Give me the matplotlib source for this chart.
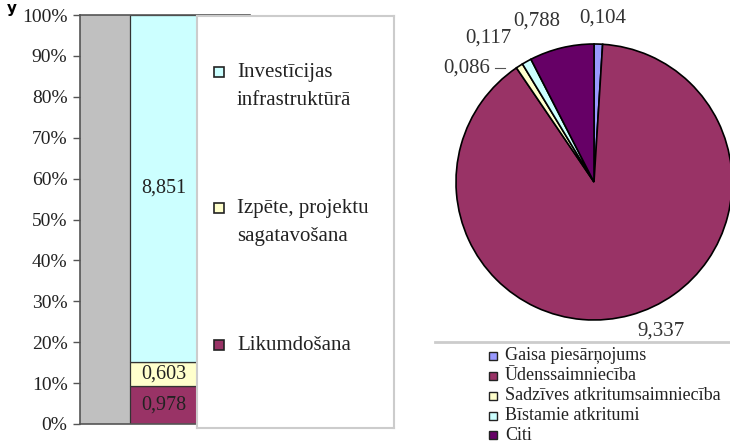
import numpy as np
import matplotlib.pyplot as plt
from matplotlib.patches import Rectangle

# bar chart (left) - values from the picture
bar_labels = ["Likumdošana", "Izpēte, projektu\nsagatavošana", "Investīcijas\ninfrastruktūrā"]
bar_values = [0.978, 0.603, 8.851]
bar_colors = ["#993366", "#FFFFCC", "#CCFFFF"]

# pie chart (right)
pie_labels = ["Gaisa piesārņojums", "Ūdenssaimniecība", "Sadzīves atkritumsaimniecība",
              "Bīstamie atkritumi", "Citi"]
pie_values = [0.104, 9.337, 0.086, 0.117, 0.788]
pie_colors = ["#9999FF", "#993366", "#FFFFCC", "#CCFFFF", "#660066"]

W, H = 730, 443
plt.rcParams['font.family'] = ['Liberation Serif', 'DejaVu Serif']
fig = plt.figure(figsize=(W / 100, H / 100), dpi=100)

def fx(px):
    return px / W

def fy(py):
    return 1 - py / H

def fmt(v):
    return ("%.3f" % v).replace(".", ",")

# ---- left: 100% stacked bar
ax = fig.add_axes([fx(80), fy(424), fx(250 - 80), (424 - 15) / H])
ax.set_facecolor("#C0C0C0")
total = sum(bar_values)
pct = [v / total * 100 for v in bar_values]
bottom = 0
for v, p, c in zip(bar_values, pct, bar_colors):
    ax.bar(0, p, width=1, bottom=bottom, color=c, edgecolor="#333333", linewidth=0.9, zorder=2)
    ax.text(0, bottom + p / 2, fmt(v), ha="center", va="center", fontsize=14.5, color="#222222", zorder=3)
    bottom += p
ax.set_xlim(-0.5 - 50 / 67, 0.5 + 53 / 67)
ax.set_ylim(0, 100)
ax.set_yticks(np.arange(0, 101, 10))
ax.set_yticklabels(["%d%%" % t for t in range(0, 101, 10)], fontsize=14, color="#222222")
ax.set_xticks([])
ax.tick_params(axis="y", length=5, width=1, color="#555555", pad=4)
for s in ["left", "top", "bottom"]:
    ax.spines[s].set_color("#555555")
    ax.spines[s].set_linewidth(1.2)
ax.spines["right"].set_visible(False)

# legend box for bar
lg = fig.add_axes([fx(197), fy(428), fx(394 - 197), (428 - 16) / H])
lg.set_xlim(197, 394)
lg.set_ylim(428, 16)
lg.set_xticks([])
lg.set_yticks([])
lg.set_facecolor("white")
for s in lg.spines.values():
    s.set_color("#CCCCCC")
    s.set_linewidth(1.5)
leg_rows = [345, 208, 72]
for lab, c, y in zip(bar_labels, bar_colors, leg_rows):
    lg.add_patch(Rectangle((214, y - 5), 10, 10, facecolor=c, edgecolor="#222222", linewidth=1.2))
    lg.text(237, y - 9, lab, ha="left", va="top", fontsize=15, color="#222222", linespacing=1.65)

# ---- right: pie
pa = fig.add_axes([fx(456), fy(320), fx(276), 276 / H])
pa.pie(pie_values, colors=pie_colors, startangle=90, counterclock=False,
       wedgeprops=dict(edgecolor="black", linewidth=1.2))
pa.set_xlim(-1, 1)
pa.set_ylim(-1, 1)
pa.set_aspect("equal")

# label positions as placed in the source chart (px)
label_px = [(603, 18), (661, 331), (467, 68), (488, 38), (537, 21)]
for v, (px, py) in zip(pie_values, label_px):
    pa.text((px - 594) / 138, (182 - py) / 138, fmt(v), ha="center", va="center",
            fontsize=15, color="#333333")
pa.plot([(495 - 594) / 138, (505 - 594) / 138], [(182 - 68) / 138] * 2, color="#555555", lw=0.8)

# pie legend
fig.add_artist(plt.Line2D([fx(435), fx(730)], [fy(342), fy(342)], color="#CCCCCC", lw=2))
rows = [356, 376, 396, 416, 435]
for lab, c, y in zip(pie_labels, pie_colors, rows):
    fig.add_artist(Rectangle((fx(489), fy(y + 4)), fx(8), 8 / H, facecolor=c,
                             edgecolor="#222222", linewidth=1.0))
    fig.text(fx(505), fy(y), lab, ha="left", va="center", fontsize=13, color="#222222")

fig.text(fx(12), fy(1), "y", ha="center", va="top", fontsize=11, fontweight="bold",
         family="DejaVu Sans")

fig.savefig("out.png", dpi=100, facecolor="white")
